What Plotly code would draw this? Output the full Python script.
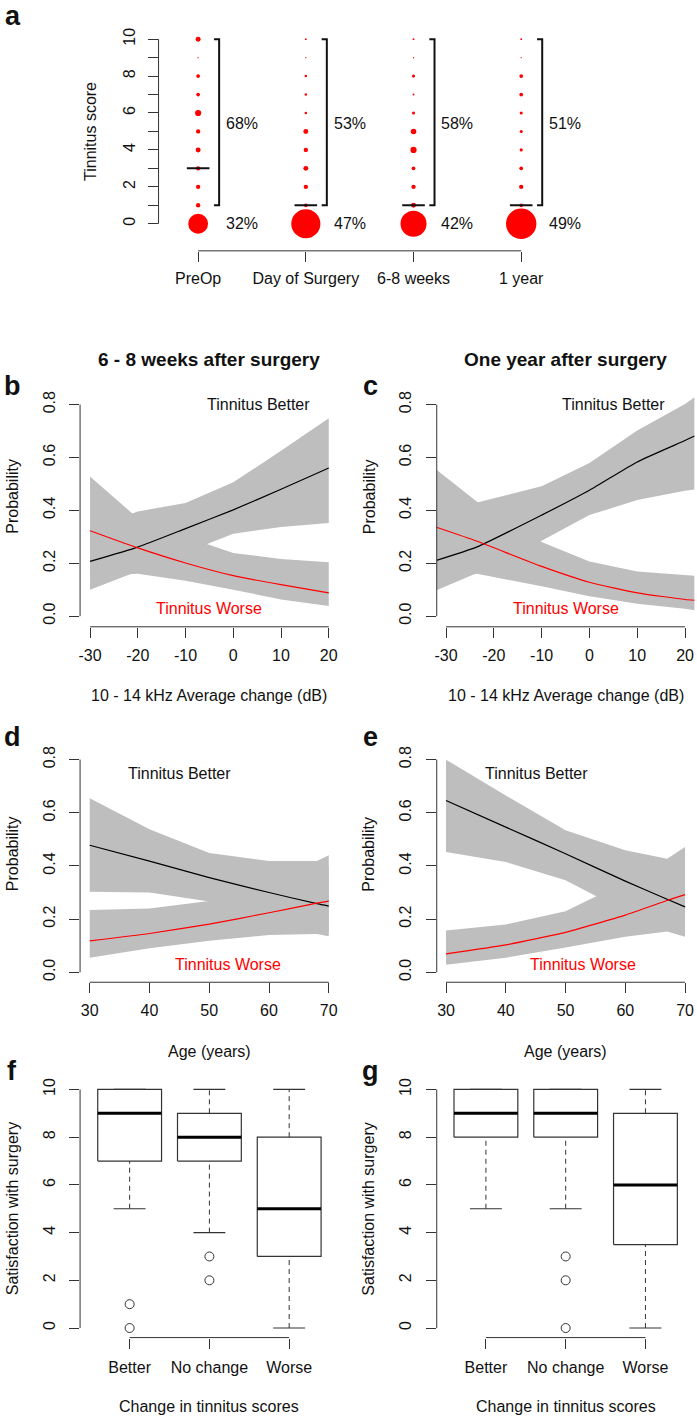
import plotly.graph_objects as go

W, H = 697, 1418
FONT = "Liberation Sans, Arial, Helvetica, sans-serif"
GRAY = "#BEBEBE"
AX = "#333333"
TXT = "#111111"

# ---------------- Panel a data ----------------
time_points = ["PreOp", "Day of Surgery", "6-8 weeks", "1 year"]
scores = list(range(0, 11))
# percentage of patients at each tinnitus score 0..10
pct_preop = [32, 7, 7, 7, 8, 7, 10, 6, 6, 2, 8]
pct_day = [47, 6, 7, 8, 7, 8, 4, 4, 4, 2, 3]
pct_6_8w = [42, 8, 7, 6, 10, 9, 5, 3, 5, 2, 3]
pct_1y = [49, 6, 7, 6, 5, 5, 5, 6, 6, 2, 3]
medians_a = [3, 1, 1, 1]
pct_tinnitus = [68, 53, 58, 51]
pct_none = [32, 47, 42, 49]

# ---------------- Panels b-e data ----------------
b_x = [-30, -20, -10, 0, 10, 20]
b_better = [0.207, 0.261, 0.331, 0.402, 0.480, 0.560]
b_better_lo = [0.100, 0.170, 0.240, 0.312, 0.337, 0.352]
b_better_hi = [0.330, 0.396, 0.428, 0.506, 0.625, 0.748]
b_worse = [0.323, 0.258, 0.201, 0.153, 0.119, 0.088]
b_worse_lo = [0.150, 0.160, 0.134, 0.100, 0.063, 0.038]
b_worse_hi = [0.528, 0.370, 0.300, 0.239, 0.216, 0.204]

c_x = [-32, -23.5, -10, 0, 10, 20, 22]
c_better = [0.211, 0.262, 0.382, 0.476, 0.583, 0.664, 0.681]
c_better_lo = [0.098, 0.163, 0.285, 0.382, 0.439, 0.474, 0.479]
c_better_hi = [0.370, 0.430, 0.491, 0.579, 0.702, 0.802, 0.828]
c_worse = [0.336, 0.283, 0.188, 0.128, 0.088, 0.063, 0.060]
c_worse_lo = [0.140, 0.160, 0.113, 0.075, 0.047, 0.0275, 0.0226]
c_worse_hi = [0.554, 0.433, 0.280, 0.207, 0.169, 0.155, 0.153]

d_x = [30, 40, 50, 60, 68, 70]
d_better = [0.478, 0.418, 0.356, 0.300, 0.258, 0.249]
d_better_lo = [0.3025, 0.300, 0.266, 0.210, 0.160, 0.150]
d_better_hi = [0.655, 0.538, 0.449, 0.419, 0.419, 0.440]
d_worse = [0.118, 0.146, 0.181, 0.224, 0.260, 0.268]
d_worse_lo = [0.055, 0.090, 0.119, 0.140, 0.144, 0.136]
d_worse_hi = [0.234, 0.240, 0.268, 0.330, 0.380, 0.400]

e_x = [30, 40, 50, 60, 67, 70]
e_better = [0.646, 0.546, 0.446, 0.343, 0.275, 0.246]
e_better_lo = [0.4525, 0.415, 0.346, 0.230, 0.180, 0.150]
e_better_hi = [0.800, 0.665, 0.534, 0.459, 0.427, 0.471]
e_worse = [0.069, 0.103, 0.150, 0.215, 0.270, 0.292]
e_worse_lo = [0.028, 0.055, 0.093, 0.134, 0.153, 0.134]
e_worse_hi = [0.157, 0.180, 0.230, 0.340, 0.420, 0.450]

prob_ticks = [0.0, 0.2, 0.4, 0.6, 0.8]
prob_labels = ["0.0", "0.2", "0.4", "0.6", "0.8"]
db_ticks = [-30, -20, -10, 0, 10, 20]
age_ticks = [30, 40, 50, 60, 70]

# ---------------- Panels f-g data ----------------
groups = ["Better", "No change", "Worse"]
f_q1 = [7, 7, 3]
f_med = [9, 8, 5]
f_q3 = [10, 9, 8]
f_lo = [5, 4, 0]
f_hi = [10, 10, 10]
f_out = [[1, 0], [3, 2], []]
g_q1 = [8, 8, 3.5]
g_med = [9, 9, 6]
g_q3 = [10, 10, 9]
g_lo = [5, 5, 0]
g_hi = [10, 10, 10]
g_out = [[], [3, 2, 0], []]
sat_ticks = [0, 2, 4, 6, 8, 10]

fig = go.Figure()
shapes = []


def px_range(v1, p1, v2, p2, e1, e2):
    s = (p2 - p1) / (v2 - v1)
    return [v1 + (e1 - p1) / s, v1 + (e2 - p1) / s]


def setup(n, left, right, top, bottom, xmap, ymap, xtv, xtt, ytv, ytt,
          xline, yline, xstand=6, ystand=6):
    sx = "" if n == 1 else str(n)
    common = dict(showgrid=False, zeroline=False, showline=False,
                  ticks="outside", ticklen=10, tickcolor=AX, tickwidth=1,
                  tickfont=dict(family=FONT, size=16, color=TXT),
                  fixedrange=True)
    fig.update_layout(**{
        "xaxis" + sx: dict(domain=[left / W, right / W],
                           range=px_range(*xmap, left, right),
                           anchor="y" + sx, tickmode="array", tickvals=xtv,
                           ticktext=xtt, ticklabelstandoff=xstand, **common),
        "yaxis" + sx: dict(domain=[1 - bottom / H, 1 - top / H],
                           range=px_range(*ymap, bottom, top),
                           anchor="x" + sx, tickmode="array", tickvals=ytv,
                           ticktext=ytt, tickangle=-90,
                           ticklabelstandoff=ystand, **common),
    })
    shapes.append(dict(type="line", xref="x" + sx, yref="y" + sx + " domain",
                       x0=xline[0], x1=xline[1], y0=0, y1=0,
                       line=dict(color=AX, width=1)))
    shapes.append(dict(type="line", xref="x" + sx + " domain", yref="y" + sx,
                       x0=0, x1=0, y0=yline[0], y1=yline[1],
                       line=dict(color=AX, width=1)))
    return "x" + sx, "y" + sx


def txt(text, px, py, size=16, color=TXT, bold=False, angle=0):
    fig.add_annotation(text=f"<b>{text}</b>" if bold else text,
                       x=px / W, y=1 - py / H, xref="paper", yref="paper",
                       showarrow=False, textangle=angle,
                       font=dict(family=FONT, size=size, color=color),
                       xanchor="center", yanchor="middle")


# ---------------- Panel a ----------------
xa, ya = setup(1, 157, 600, 20, 246.7, (0, 196.7, 3, 520.7), (0, 219.5, 10, 34.3),
               list(range(len(time_points))), time_points,
               scores, [str(s) if s % 2 == 0 else "" for s in scores],
               (0, len(time_points) - 1), (scores[0], scores[-1]), xstand=3, ystand=6)
all_pct = [pct_preop, pct_day, pct_6_8w, pct_1y]
for i, pcts in enumerate(all_pct):
    fig.add_trace(go.Scatter(x=[i] * len(scores), y=scores, mode="markers",
                             marker=dict(color="#FF0000", opacity=1,
                                         size=[0.62 * p for p in pcts],
                                         line=dict(width=0)),
                             xaxis=xa, yaxis=ya, hoverinfo="skip"))
    # bracket spanning non-zero scores
    bx = i + 0.195
    fig.add_trace(go.Scatter(x=[bx - 0.048, bx, bx, bx - 0.048],
                             y=[scores[1], scores[1], scores[-1], scores[-1]],
                             mode="lines", line=dict(color="#111", width=2),
                             xaxis=xa, yaxis=ya, hoverinfo="skip"))
    # median line
    fig.add_trace(go.Scatter(x=[i - 0.105, i + 0.105], y=[medians_a[i]] * 2,
                             mode="lines", line=dict(color="#111", width=2),
                             xaxis=xa, yaxis=ya, hoverinfo="skip"))
    fig.add_annotation(text=f"{pct_tinnitus[i]}%", x=i + 0.24, y=5.45, xref=xa, yref=ya,
                       showarrow=False, xanchor="left", yanchor="middle",
                       font=dict(family=FONT, size=16, color=TXT))
    fig.add_annotation(text=f"{pct_none[i]}%", x=i + 0.24, y=0, xref=xa, yref=ya,
                       showarrow=False, xanchor="left", yanchor="middle",
                       font=dict(family=FONT, size=16, color=TXT))


# ---------------- Panels b-e ----------------
def prob_panel(n, box, xmap, ymap, xt, xs, better, blo, bhi, worse, wlo, whi,
               lab_better, lab_worse):
    xr, yr = setup(n, *box, xmap, ymap, xt, [str(t) for t in xt],
                   prob_ticks, prob_labels, (xt[0], xt[-1]),
                   (prob_ticks[0], prob_ticks[-1]), xstand=4, ystand=8)
    for lo, hi in ((blo, bhi), (wlo, whi)):
        fig.add_trace(go.Scatter(x=xs + xs[::-1], y=hi + lo[::-1], mode="lines",
                                 fill="toself", fillcolor=GRAY,
                                 line=dict(width=0, color="rgba(0,0,0,0)"),
                                 xaxis=xr, yaxis=yr, hoverinfo="skip"))
    fig.add_trace(go.Scatter(x=xs, y=better, mode="lines",
                             line=dict(color="#000", width=1.2, shape="spline", smoothing=0.5),
                             xaxis=xr, yaxis=yr, hoverinfo="skip"))
    fig.add_trace(go.Scatter(x=xs, y=worse, mode="lines",
                             line=dict(color="#FF0000", width=1.2, shape="spline", smoothing=0.5),
                             xaxis=xr, yaxis=yr, hoverinfo="skip"))
    fig.add_annotation(text="Tinnitus Better", x=lab_better[0], y=lab_better[1],
                       xref=xr, yref=yr, showarrow=False,
                       font=dict(family=FONT, size=16, color=TXT))
    fig.add_annotation(text="Tinnitus Worse", x=lab_worse[0], y=lab_worse[1],
                       xref=xr, yref=yr, showarrow=False,
                       font=dict(family=FONT, size=16, color="#FF0000"))


prob_panel(2, (78.3, 337.5, 392, 624), (-30, 88.3, 20, 327.7), (0, 613.3, 0.8, 401),
           db_ticks, b_x, b_better, b_better_lo, b_better_hi, b_worse, b_worse_lo,
           b_worse_hi, (5.2, 0.8), (-5.1, 0.028))
prob_panel(3, (436, 694.6, 392, 624), (-30, 445.3, 20, 685), (0, 613.3, 0.8, 401),
           db_ticks, c_x, c_better, c_better_lo, c_better_hi, c_worse, c_worse_lo,
           c_worse_hi, (5.0, 0.8), (-5.0, 0.028))
prob_panel(4, (78.3, 337.3, 748.8, 980.7), (30, 88, 70, 327.7), (0, 970.7, 0.8, 757.3),
           age_ticks, d_x, d_better, d_better_lo, d_better_hi, d_worse, d_worse_lo,
           d_worse_hi, (45.1, 0.746), (53.2, 0.03))
prob_panel(5, (436, 694.6, 748.8, 980.7), (30, 445.3, 70, 685), (0, 970.7, 0.8, 757.3),
           age_ticks, e_x, e_better, e_better_lo, e_better_hi, e_worse, e_worse_lo,
           e_worse_hi, (45.1, 0.746), (53.0, 0.028))


# ---------------- Panels f-g ----------------
def box_panel(n, box, xmap, q1, med, q3, lo, hi, outs):
    pos = list(range(1, len(groups) + 1))
    xr, yr = setup(n, *box, xmap, (0, 1327.7, 10, 1088.3), pos, groups,
                   sat_ticks, [str(t) for t in sat_ticks], (pos[0], pos[-1]),
                   (sat_ticks[0], sat_ticks[-1]), xstand=5, ystand=8)
    hw, cw = 0.4, 0.2
    for i, p in enumerate(pos):
        # whiskers (dashed)
        fig.add_trace(go.Scatter(x=[p, p, None, p, p], y=[q3[i], hi[i], None, lo[i], q1[i]],
                                 mode="lines", line=dict(color=AX, width=1, dash="5px,4px"),
                                 xaxis=xr, yaxis=yr, hoverinfo="skip"))
        # caps
        fig.add_trace(go.Scatter(x=[p - cw, p + cw, None, p - cw, p + cw],
                                 y=[hi[i], hi[i], None, lo[i], lo[i]], mode="lines",
                                 line=dict(color=AX, width=1.2),
                                 xaxis=xr, yaxis=yr, hoverinfo="skip"))
        # box
        fig.add_trace(go.Scatter(x=[p - hw, p + hw, p + hw, p - hw, p - hw],
                                 y=[q1[i], q1[i], q3[i], q3[i], q1[i]], mode="lines",
                                 fill="toself", fillcolor="white",
                                 line=dict(color=AX, width=1.2),
                                 xaxis=xr, yaxis=yr, hoverinfo="skip"))
        # median
        fig.add_trace(go.Scatter(x=[p - hw, p + hw], y=[med[i], med[i]], mode="lines",
                                 line=dict(color="#000", width=3),
                                 xaxis=xr, yaxis=yr, hoverinfo="skip"))
        if outs[i]:
            fig.add_trace(go.Scatter(x=[p] * len(outs[i]), y=outs[i], mode="markers",
                                     marker=dict(symbol="circle-open", size=9,
                                                 color=AX, line=dict(width=1)),
                                     xaxis=xr, yaxis=yr, hoverinfo="skip"))


box_panel(6, (78.3, 337.6, 1078.7, 1337.3), (1, 128, 3, 288),
          f_q1, f_med, f_q3, f_lo, f_hi, f_out)
box_panel(7, (436, 695, 1078.7, 1337.3), (1, 485.3, 3, 645.3),
          g_q1, g_med, g_q3, g_lo, g_hi, g_out)

# ---------------- Text ----------------
for letter, px, py in (("a", 11, 11), ("b", 11, 382), ("c", 369.5, 382),
                       ("d", 11, 735), ("e", 369.5, 735), ("f", 10, 1070),
                       ("g", 369.5, 1070)):
    txt(letter, px, py, size=27, bold=True)

txt("Tinnitus score", 89, 126.7, angle=-90)
txt("6 - 8 weeks after surgery", 207.3, 356, size=19, bold=True)
txt("One year after surgery", 565, 356, size=19, bold=True)
for cx in (10.5, 368):
    txt("Probability", cx, 493, angle=-90)
    txt("Probability", cx, 851.7, angle=-90)
    txt("Satisfaction with surgery", cx, 1208, angle=-90)
for cx in (208, 565.8):
    txt("10 - 14 kHz Average change (dB)", cx, 693)
    txt("Age (years)", cx - 0.3, 1050)
    txt("Change in tinnitus scores", cx - 0.3, 1406.7)

fig.update_layout(width=W, height=H, margin=dict(l=0, r=0, t=0, b=0),
                  paper_bgcolor="white", plot_bgcolor="white",
                  showlegend=False, shapes=shapes)

fig.write_html("out.html", config={"displayModeBar": False},
               post_script="document.body.style.margin='0px';document.body.style.padding='0px';")
